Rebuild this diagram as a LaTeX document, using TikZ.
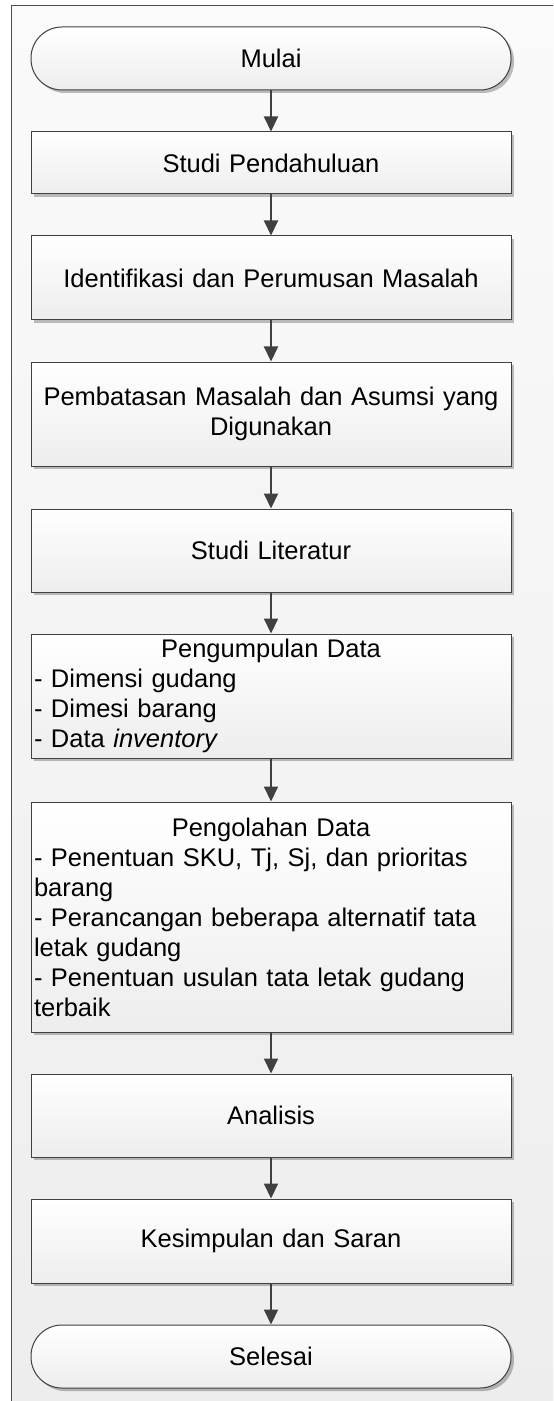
\documentclass[tikz,border=0pt]{standalone}
\usepackage{fontspec}
\setmainfont{Liberation Sans}
\usetikzlibrary{arrows.meta,shadows}

\begin{document}
\begin{tikzpicture}[x=0.5pt,y=-0.5pt,
  box/.style={draw=black!75,line width=0.5pt,top color=white,bottom color=black!7,
    minimum width=240pt,text width=237pt,inner xsep=1pt,inner ysep=0pt,align=center,
    font=\fontsize{12.75pt}{15pt}\selectfont,
    drop shadow={shadow xshift=1.5pt,shadow yshift=-1.5pt,fill=black,opacity=.25}},
  term/.style={box,rounded corners=15.5pt},
  list/.style={align=left},
  flow/.style={draw=black!75,line width=1pt,-{Triangle[width=7pt,length=7.5pt]}}]
\useasboundingbox (0,0) rectangle (553,1401);
% frame
\fill[top color=black!2,bottom color=black!7] (11,6) rectangle (553,1401);
\draw[black!70,line width=0.5pt] (553,6) -- (11,6) -- (11,1401);
% steps
\draw (271,58.5) node[term,minimum height=31.5pt] (p1) {Mulai};
\draw (271,163) node[box,minimum height=31pt] (p2) {Studi Pendahuluan};
\draw (271,278) node[box,minimum height=42pt] (p3) {Identifikasi dan Perumusan Masalah};
\draw (271,414) node[box,minimum height=52pt] (p4) {Pembatasan Masalah dan Asumsi yang\\Digunakan};
\draw (271,550.5) node[box,minimum height=41.5pt] (p5) {Studi Literatur};
\draw (271,696) node[box,list,minimum height=62pt] (p6) {{\centering Pengumpulan Data\par}- Dimensi gudang\\- Dimesi barang\\- Data \textit{inventory}};
\draw (271,917) node[box,list,minimum height=115pt] (p7) {{\centering Pengolahan Data\par}- Penentuan SKU, Tj, Sj, dan prioritas\\barang\\- Perancangan beberapa alternatif tata\\letak gudang\\- Penentuan usulan tata letak gudang\\terbaik};
\draw (271,1115.5) node[box,minimum height=41.5pt] (p8) {Analisis};
\draw (271,1241) node[box,minimum height=42pt] (p9) {Kesimpulan dan Saran};
\draw (271,1356.5) node[term,minimum height=31.5pt] (p10) {Selesai};
% arrows
\draw[flow] (p1) -- (p2);
\draw[flow] (p2) -- (p3);
\draw[flow] (p3) -- (p4);
\draw[flow] (p4) -- (p5);
\draw[flow] (p5) -- (p6);
\draw[flow] (p6) -- (p7);
\draw[flow] (p7) -- (p8);
\draw[flow] (p8) -- (p9);
\draw[flow] (p9) -- (p10);
\end{tikzpicture}
\end{document}
